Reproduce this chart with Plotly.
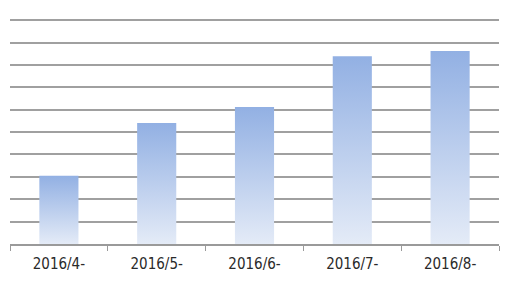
import plotly.graph_objects as go

categories = ["2016/4-", "2016/5-", "2016/6-", "2016/7-", "2016/8-"]
values = [3.05, 5.4, 6.12, 8.39, 8.62]
y_max = 10
bar_half = 0.2

fig = go.Figure()
for i, (cat, v) in enumerate(zip(categories, values)):
    xs = [i - bar_half, i + bar_half, i + bar_half, i - bar_half, i - bar_half]
    ys = [0, 0, v, v, 0]
    fig.add_trace(go.Scatter(
        x=xs, y=ys, mode="lines", fill="toself",
        line=dict(width=0, color="rgba(0,0,0,0)"),
        fillgradient=dict(type="vertical",
                          colorscale=[[0, "#e4ebf7"], [1, "#92b0e3"]]),
        name=cat, showlegend=False, hoverinfo="skip",
    ))

fig.update_layout(
    width=506, height=281,
    margin=dict(l=10, r=7, t=19, b=37),
    paper_bgcolor="white", plot_bgcolor="white",
    showlegend=False,
    xaxis=dict(
        range=[-0.5, len(categories) - 0.5],
        tickvals=list(range(len(categories))),
        ticktext=categories,
        ticks="", showgrid=False, zeroline=False,
        showline=True, linecolor="#9a9a9a", linewidth=2,
        tickfont=dict(family="DejaVu Sans Condensed", size=15, color="#2a2a2a"),
        ticklabelstandoff=5,
        minor=dict(tick0=-0.5, dtick=1, ticks="outside", ticklen=5,
                   tickcolor="#9a9a9a", tickwidth=1, showgrid=False),
        fixedrange=True,
    ),
    yaxis=dict(
        range=[0, y_max * 1.005], dtick=1, tick0=0,
        showticklabels=False, ticks="",
        showgrid=True, gridcolor="#a0a0a0", gridwidth=2,
        zeroline=False, showline=False, fixedrange=True,
    ),
)
fig.write_html("out.html")
